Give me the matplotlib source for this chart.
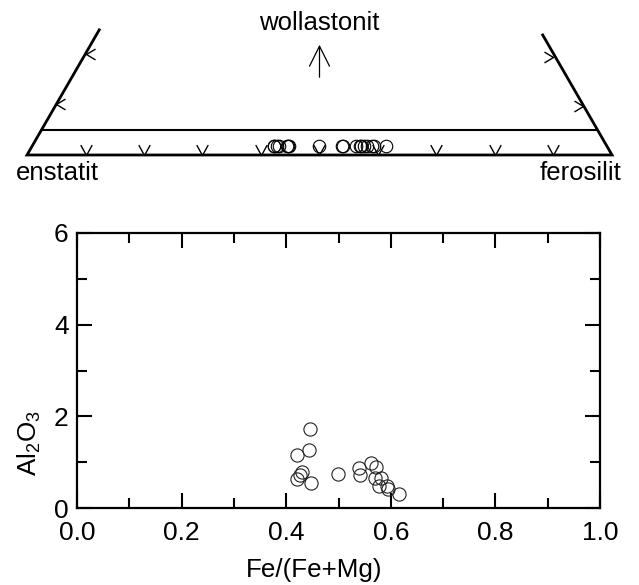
import numpy as np
import matplotlib
matplotlib.use('Agg')
import matplotlib.pyplot as plt
from matplotlib.path import Path
from matplotlib.ticker import MultipleLocator, FormatStrFormatter

plt.rcParams.update({
    'font.family': ['Liberation Sans', 'DejaVu Sans'],
    'font.size': 18,
    'mathtext.fontset': 'custom',
    'mathtext.rm': 'Liberation Sans',
    'mathtext.default': 'regular',
    'axes.linewidth': 1.6,
})

# Fe/(Fe+Mg) and Al2O3 (wt%) of the pyroxenes
fe_ratio = [0.445, 0.444, 0.421, 0.430, 0.426, 0.421, 0.447, 0.499, 0.540,
            0.541, 0.563, 0.572, 0.570, 0.582, 0.578, 0.592, 0.595, 0.616]
al2o3 = [1.72, 1.27, 1.16, 0.79, 0.71, 0.63, 0.54, 0.74, 0.87,
         0.72, 0.99, 0.89, 0.66, 0.65, 0.47, 0.48, 0.41, 0.31]
# wollastonite content (fraction) for the quadrilateral
wo = [0.018] * len(fe_ratio)

base_ticks = [0.1, 0.2, 0.3, 0.4, 0.5, 0.6, 0.7, 0.8, 0.9]
side_ticks = [0.10, 0.20]

H = np.sqrt(3) / 2  # height of the ternary (apex = wollastonite)


def tern(r, w):
    """Fe/(Fe+Mg) ratio and Wo fraction -> plot coords (En at 0, Fs at 1)"""
    r = np.asarray(r)
    w = np.asarray(w)
    return r * (1 - w) + w / 2, w * H


def chevron(pts):
    return Path(pts, [Path.MOVETO, Path.LINETO, Path.LINETO])


fig = plt.figure(figsize=(6.39, 5.85), dpi=100)

# ---------------- top: pyroxene quadrilateral ----------------
axt = fig.add_axes([0, 385 / 585, 1, 200 / 585])
axt.set_xlim(-27 / 585, 612 / 585)
axt.set_ylim(-45 / 585, 155 / 585)
axt.axis('off')

wo_left, wo_right, wo_line = 0.247, 0.237, 0.05
axt.plot([wo_left / 2, 0, 1, 1 - wo_right / 2], [wo_left * H, 0, 0, wo_right * H],
         color='k', lw=2.0, solid_joinstyle='miter')
axt.plot([wo_line / 2, 1 - wo_line / 2], [wo_line * H, wo_line * H], color='k', lw=1.5)

axt.plot(base_ticks, np.zeros(len(base_ticks)), ls='none', color='k',
         marker=chevron([(-0.55, 1), (0, 0), (0.55, 1)]),
         ms=15, mfc='none', mew=1.0)
st = np.array(side_ticks)
axt.plot(st / 2, st * H, ls='none', color='k',
         marker=chevron([(1, 0.6), (0, 0), (1, -0.6)]),
         ms=13, mfc='none', mew=1.0)
axt.plot(1 - st / 2, st * H * 0.97, ls='none', color='k',
         marker=chevron([(-1, 0.6), (0, 0), (-1, -0.6)]),
         ms=13, mfc='none', mew=1.0)

qx, qy = tern(fe_ratio, wo)
axt.plot(qx, qy, 'o', ls='none', ms=9, mfc='none', mec='k', mew=0.8)

axt.annotate('', xy=(0.5, 113 / 585), xytext=(0.5, 75 / 585),
             arrowprops=dict(arrowstyle='->,head_length=0.8,head_width=0.4', lw=0.9, color='k'))
axt.text(0.5, 132 / 585, 'wollastonit', ha='center', va='center', fontsize=18.5)
axt.text(30 / 585, -18 / 585, 'enstatit', ha='center', va='center', fontsize=18.5)
axt.text(554 / 585, -18 / 585, 'ferosilit', ha='center', va='center', fontsize=18.5)

# ---------------- bottom: Al2O3 vs Fe/(Fe+Mg) ----------------
ax = fig.add_axes([77 / 639, 77 / 585, 523 / 639, 275 / 585])
ax.plot(fe_ratio, al2o3, 'o', ls='none', ms=9.5, mfc='none', mec='#222222', mew=0.8)
ax.set_xlim(0, 1)
ax.set_ylim(0, 6)
ax.xaxis.set_major_locator(MultipleLocator(0.2))
ax.xaxis.set_minor_locator(MultipleLocator(0.1))
ax.yaxis.set_major_locator(MultipleLocator(2))
ax.yaxis.set_minor_locator(MultipleLocator(1))
ax.xaxis.set_major_formatter(FormatStrFormatter('%.1f'))
ax.tick_params(which='both', direction='in', top=True, right=True, labelsize=19)
ax.tick_params(which='major', length=10.5, width=1.5)
ax.tick_params(which='minor', length=7, width=1.5)
ax.tick_params(axis='x', pad=9)
ax.tick_params(axis='y', pad=6)
ax.set_xlabel('Fe/(Fe+Mg)', fontsize=18.7)
ax.xaxis.set_label_coords(0.453, -0.18)
ax.set_ylabel(r'Al$_2$O$_3$', fontsize=18.7)
ax.yaxis.set_label_coords(-0.065, 0.236)

fig.savefig('out.png', dpi=100)
